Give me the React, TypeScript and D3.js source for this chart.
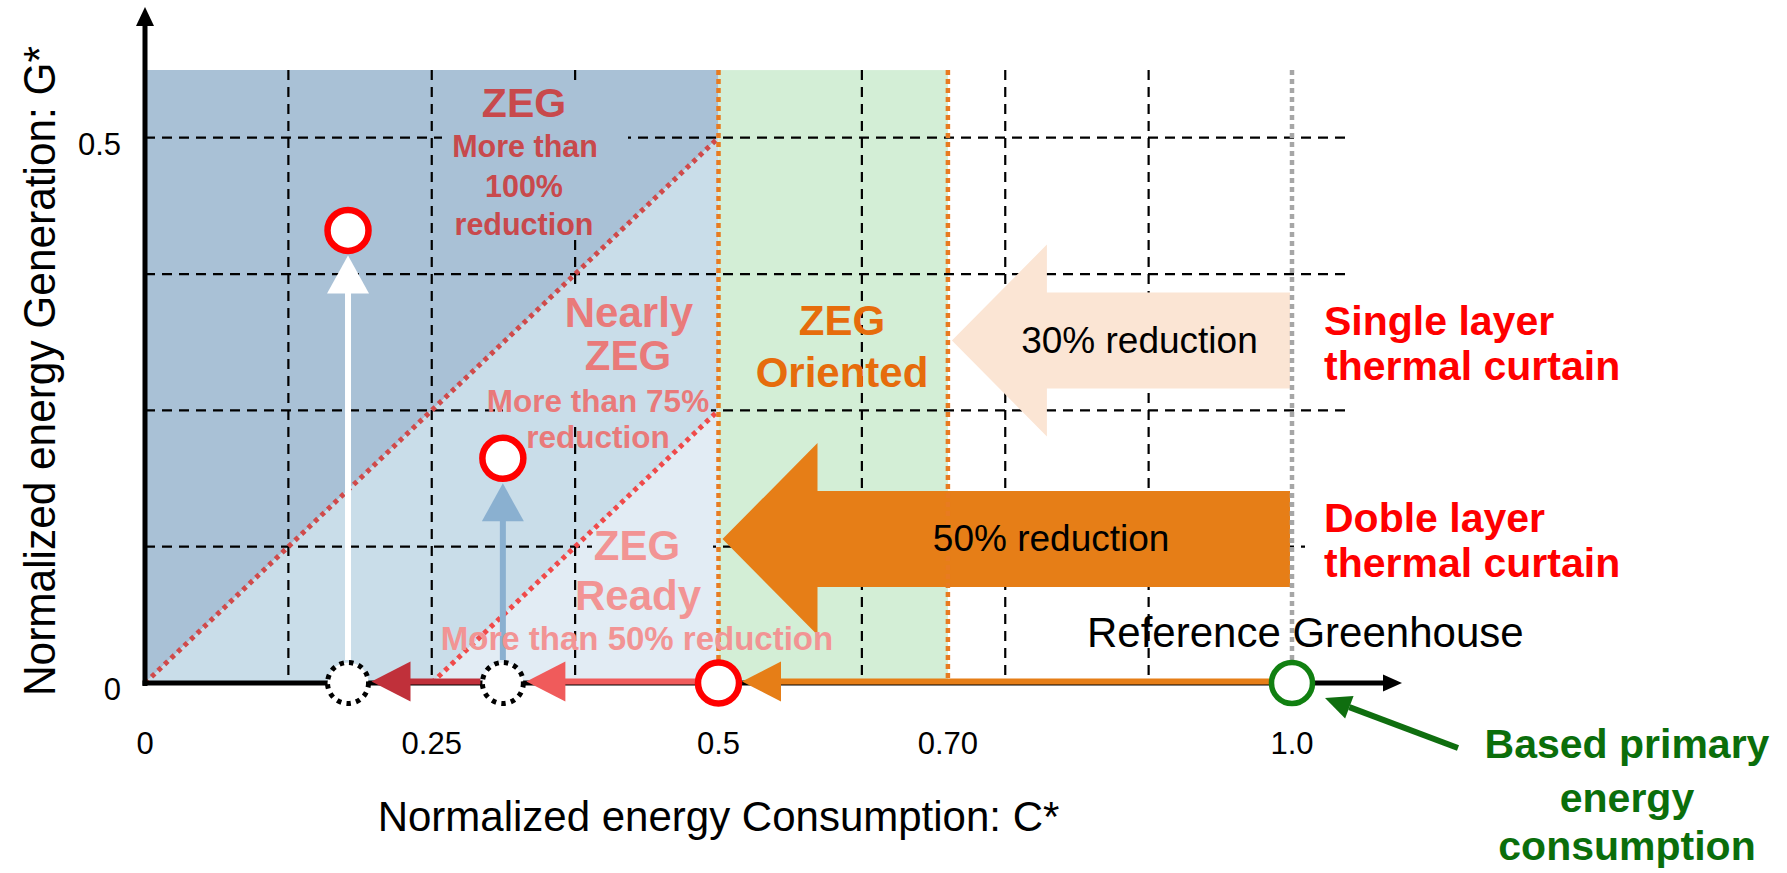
import React from "react";
import * as d3 from "d3";

const W = 1787;
const H = 873;

// ---- axis ticks / grid (values in normalized units) ----
const xTickValues = [0, 0.25, 0.5, 0.7, 1.0];
const xTickLabels = ["0", "0.25", "0.5", "0.70", "1.0"];
const yTickValues = [0, 0.5];
const yTickLabels = ["0", "0.5"];
const gridC = [0.125, 0.25, 0.375, 0.625, 0.75, 0.875];
const gridG = [0.125, 0.25, 0.375, 0.5];
const cMax = 1.05;
const gMax = 0.562;

// ---- zone boundaries ----
const nearlyOffset = 0.25; // G = C - 0.25
const readyLimitC = 0.5;
const orientedLimitC = 0.7;
const referenceC = 1.0;

// ---- consumption path along the axis (C*, G*=0) ----
const pathC = [1.0, 0.5, 0.312, 0.177];
const pathColors = ["#e67e17", "#f05b5b", "#c0303a"];
// ---- points with energy generation added ----
const pvC = [0.312, 0.177];
const pvG = [0.206, 0.415];
const pvArrowColors = ["#8ab0d0", "#ffffff"];

// ---- reduction block arrows ----
const reductionFrom = [1.0, 1.0];
const reductionTo = [0.7, 0.5];
const reductionG = [0.314, 0.132];
const reductionLabels = ["30% reduction", "50% reduction"];
const reductionLabelC = [0.867, 0.79];
const reductionFills = ["#fbe5d4", "#e67e17"];

const FONT = "'Liberation Sans', Arial, Helvetica, sans-serif";

export default function App() {
  const x = d3.scaleLinear().domain([0, 1]).range([145, 1292]);
  const y = d3.scaleLinear().domain([0, 0.5]).range([683, 137.7]);
  const line = d3.line<[number, number]>().x((d) => x(d[0])).y((d) => y(d[1]));
  const poly = (pts: [number, number][]) => line(pts) + "Z";

  const darkPoly = poly([[0, 0], [0, gMax], [readyLimitC, gMax], [readyLimitC, readyLimitC]]);
  const lightPoly = poly([[0, 0], [readyLimitC, readyLimitC], [readyLimitC, readyLimitC - nearlyOffset], [nearlyOffset, 0]]);
  const lightestPoly = poly([[nearlyOffset, 0], [readyLimitC, readyLimitC - nearlyOffset], [readyLimitC, 0]]);

  const regionFills = (
    <>
      <path d={darkPoly} fill="#a9c1d6" />
      <path d={lightPoly} fill="#c9dde9" />
      <path d={lightestPoly} fill="#e2ecf4" />
    </>
  );

  const textBoxes = [
    { id: "b1", x: 442, y: 80, w: 186, h: 160 },
    { id: "b2", x: 503, y: 286, w: 208, h: 141 },
    { id: "b3", x: 592, y: 505, w: 121, h: 118 },
  ];

  const blockArrow = (tipX: number, endX: number, cy: number) => {
    const hl = 95, hh = 96, bh = 48;
    return `M${tipX},${cy} L${tipX + hl},${cy - hh} L${tipX + hl},${cy - bh} L${endX},${cy - bh} L${endX},${cy + bh} L${tipX + hl},${cy + bh} L${tipX + hl},${cy + hh} Z`;
  };

  const r = 20.5;
  const axisY = y(0);
  const arrowY = axisY - 1.5;

  // green annotation arrow
  const gTip: [number, number] = [x(referenceC) + 33, axisY + 15];
  const gTail: [number, number] = [1458, 748];
  const dx = gTail[0] - gTip[0], dy = gTail[1] - gTip[1];
  const len = Math.hypot(dx, dy);
  const ux = dx / len, uy = dy / len;
  const hL = 26, hW = 12;
  const gBase: [number, number] = [gTip[0] + ux * hL, gTip[1] + uy * hL];
  const gHead = `M${gTip[0]},${gTip[1]} L${gBase[0] - uy * hW},${gBase[1] + ux * hW} L${gBase[0] + uy * hW},${gBase[1] - ux * hW} Z`;

  const zegRed = "#c8494c";
  const nearlyRed = "#e97a7a";
  const readyRed = "#f29494";

  return (
    <svg width={W} height={H} style={{ position: "absolute", left: 0, top: 0, background: "#fff" }} fontFamily={FONT}>
      <defs>
        {textBoxes.map((b) => (
          <clipPath id={b.id} key={b.id}>
            <rect x={b.x} y={b.y} width={b.w} height={b.h} />
          </clipPath>
        ))}
      </defs>
      <rect x={0} y={0} width={W} height={H} fill="#fff" />

      {/* zones */}
      {regionFills}
      <rect x={x(readyLimitC)} y={y(gMax)} width={x(orientedLimitC) - x(readyLimitC)} height={y(0) - y(gMax)} fill="#d3eed6" />

      {/* grid */}
      {gridC.map((c) => (
        <line key={"gc" + c} x1={x(c)} x2={x(c)} y1={y(gMax)} y2={y(0)} stroke="#000" strokeWidth={2.2} strokeDasharray="10 7" />
      ))}
      {gridG.map((g) => (
        <line key={"gg" + g} x1={x(0)} x2={x(cMax)} y1={y(g)} y2={y(g)} stroke="#000" strokeWidth={2.2} strokeDasharray="10 7" />
      ))}

      {/* text box backgrounds */}
      {textBoxes.map((b) => (
        <g key={"tb" + b.id} clipPath={`url(#${b.id})`}>
          {regionFills}
        </g>
      ))}
      <rect x={1305} y={498} width={350} height={92} fill="#fff" />

      {/* zone boundary lines */}
      <path d={line([[0, 0], [readyLimitC, readyLimitC]]) || ""} stroke="#d04a4a" strokeWidth={5} strokeDasharray="4.5 4.5" fill="none" />
      <path d={line([[nearlyOffset, 0], [readyLimitC, readyLimitC - nearlyOffset]]) || ""} stroke="#f04a4a" strokeWidth={5} strokeDasharray="4.5 4.5" fill="none" />

      {/* block arrows */}
      {reductionTo.map((c, i) => (
        <path key={"ba" + i} d={blockArrow(x(c) + 4, x(reductionFrom[i]) - 2, y(reductionG[i]))} fill={reductionFills[i]} />
      ))}

      {[readyLimitC, orientedLimitC].map((c) => (
        <line key={"ov" + c} x1={x(c)} x2={x(c)} y1={y(gMax)} y2={y(0)} stroke="#e87b20" strokeWidth={4.5} strokeDasharray="5 4" />
      ))}
      <line x1={x(referenceC)} x2={x(referenceC)} y1={y(gMax)} y2={y(0)} stroke="#a6a6a6" strokeWidth={4.5} strokeDasharray="5 4" />

      {/* axes */}
      <line x1={x(0)} x2={x(0)} y1={axisY + 3} y2={24} stroke="#000" strokeWidth={5} />
      <path d={`M${x(0)},7 L${x(0) - 9},26 L${x(0) + 9},26 Z`} fill="#000" />
      <line x1={x(0) - 2.5} x2={1386} y1={axisY} y2={axisY} stroke="#000" strokeWidth={5} />
      <path d={`M1402,${axisY} L1383,${axisY - 8.5} L1383,${axisY + 8.5} Z`} fill="#000" />

      {/* consumption-step arrows on the axis */}
      {pathC.slice(0, -1).map((c, i) => {
        const tail = x(c) - r - 2;
        const tip = x(pathC[i + 1]) + r + 3;
        return (
          <g key={"sa" + i}>
            <rect x={tip + 38} y={arrowY - 3} width={tail - tip - 38} height={6} fill={pathColors[i]} />
            <path d={`M${tip},${arrowY} L${tip + 39},${arrowY - 20} L${tip + 39},${arrowY + 20} Z`} fill={pathColors[i]} />
          </g>
        );
      })}

      {/* generation arrows */}
      {pvC.map((c, i) => {
        const base = axisY - 23;
        const tip = y(pvG[i]) + 25;
        return (
          <g key={"va" + i}>
            <rect x={x(c) - 3} y={tip + 37} width={6} height={base - tip - 37} fill={pvArrowColors[i]} />
            <path d={`M${x(c)},${tip} L${x(c) - 21},${tip + 38} L${x(c) + 21},${tip + 38} Z`} fill={pvArrowColors[i]} />
          </g>
        );
      })}

      {/* points */}
      <circle cx={x(pathC[0])} cy={axisY} r={r} fill="#fff" stroke="#118011" strokeWidth={5.5} />
      <circle cx={x(pathC[1])} cy={axisY} r={r} fill="#fff" stroke="#ff0000" strokeWidth={6.5} />
      {pathC.slice(2).map((c) => (
        <circle key={"dc" + c} cx={x(c)} cy={axisY} r={r} fill="#fff" stroke="#000" strokeWidth={5} strokeDasharray="4.5 5.2" />
      ))}
      {pvC.map((c, i) => (
        <circle key={"pc" + i} cx={x(c)} cy={y(pvG[i])} r={r} fill="#fff" stroke="#ff0000" strokeWidth={6.5} />
      ))}

      {/* green annotation arrow */}
      <line x1={gTail[0]} y1={gTail[1]} x2={gBase[0]} y2={gBase[1]} stroke="#0f6e0f" strokeWidth={6} />
      <path d={gHead} fill="#0f6e0f" />

      {/* tick labels */}
      {xTickValues.map((v, i) => (
        <text key={"xt" + i} x={x(v)} y={754} fontSize={31} textAnchor="middle" fill="#000">{xTickLabels[i]}</text>
      ))}
      {yTickValues.map((v, i) => (
        <text key={"yt" + i} x={121} y={y(v) + 17} fontSize={31} textAnchor="end" fill="#000">{yTickLabels[i]}</text>
      ))}

      {/* axis titles */}
      <text x={x(0.5)} y={831} fontSize={42} textAnchor="middle" fill="#000">Normalized energy Consumption: C*</text>
      <text transform="translate(55,371) rotate(-90)" fontSize={45} textAnchor="middle" fill="#000" textLength={650} lengthAdjust="spacingAndGlyphs">Normalized energy Generation: G*</text>

      {/* zone labels */}
      <g fontWeight="bold" textAnchor="middle">
        <text x={524} y={117} fontSize={41} fill={zegRed}>ZEG</text>
        <text x={525} y={157} fontSize={30.5} fill={zegRed}>More than</text>
        <text x={524} y={197} fontSize={30.5} fill={zegRed}>100%</text>
        <text x={524} y={235} fontSize={30.5} fill={zegRed}>reduction</text>

        <text x={629} y={327} fontSize={42} fill={nearlyRed}>Nearly</text>
        <text x={628} y={370} fontSize={42} fill={nearlyRed}>ZEG</text>
        <text x={598} y={412} fontSize={31.5} fill={nearlyRed}>More than 75%</text>
        <text x={598} y={448} fontSize={31.5} fill={nearlyRed}>reduction</text>

        <text x={637} y={560} fontSize={42} fill={readyRed}>ZEG</text>
        <text x={638} y={610} fontSize={42} fill={readyRed}>Ready</text>
        <text x={637} y={650} fontSize={33} fill={readyRed}>More than 50% reduction</text>

        <text x={842} y={335} fontSize={42} fill="#e66c0c">ZEG</text>
        <text x={842} y={387} fontSize={42} fill="#e66c0c">Oriented</text>
      </g>

      {/* block arrow labels */}
      {reductionLabels.map((t, i) => (
        <text key={"rl" + i} x={x(reductionLabelC[i])} y={y(reductionG[i]) + 12} fontSize={37} textAnchor="middle" fill="#000">{t}</text>
      ))}

      {/* right-side labels */}
      <g fontWeight="bold" fill="#ff0000" fontSize={41}>
        <text x={1324} y={335}>Single layer</text>
        <text x={1324} y={380}>thermal curtain</text>
        <text x={1324} y={532}>Doble layer</text>
        <text x={1324} y={577}>thermal curtain</text>
      </g>
      <text x={1087} y={647} fontSize={42} fill="#000">Reference Greenhouse</text>
      <g fontWeight="bold" fill="#0b6e0b" fontSize={41} textAnchor="middle">
        <text x={1627} y={758}>Based primary</text>
        <text x={1627} y={812}>energy</text>
        <text x={1627} y={860}>consumption</text>
      </g>
    </svg>
  );
}
